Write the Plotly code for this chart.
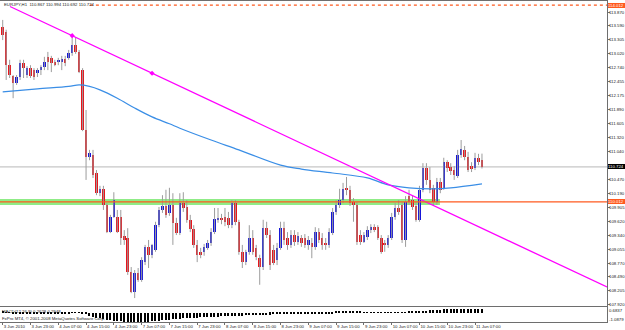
import plotly.graph_objects as go

# ---------------- data ----------------
symbol = "EURJPY,H1"
x_labels = ["3 Jun 2010", "3 Jun 23:00", "4 Jun 07:00", "4 Jun 15:00", "4 Jun 23:00",
            "7 Jun 07:00", "7 Jun 15:00", "7 Jun 23:00", "8 Jun 07:00", "8 Jun 15:00",
            "8 Jun 23:00", "9 Jun 07:00", "9 Jun 15:00", "9 Jun 23:00", "10 Jun 07:00",
            "10 Jun 15:00", "10 Jun 23:00", "11 Jun 07:00"]
label_idx = [0, 8, 16, 24, 32, 40, 48, 56, 64, 72, 80, 88, 96, 104, 112, 120, 128, 136]

opens = [113.57, 113.46, 112.79, 112.57, 112.43, 112.55, 112.83, 112.59, 112.73, 112.69,
         112.63, 112.69, 112.75, 112.96, 112.94, 112.85, 112.85, 112.85, 112.92, 112.94,
         113.04, 113.20, 113.06, 112.69, 111.47, 110.93, 110.97, 110.60, 110.19, 110.28,
         109.95, 109.40, 109.71, 109.71, 109.71, 109.32, 109.28, 108.59, 108.18, 108.57,
         108.43, 108.79, 109.10, 108.94, 109.04, 109.54, 109.85, 109.93, 109.79, 109.95,
         109.59, 109.38, 109.99, 109.91, 109.65, 109.46, 109.14, 109.00, 109.00, 109.08,
         109.18, 109.40, 109.65, 109.69, 109.71, 109.69, 109.54, 109.99, 109.61, 109.00,
         108.79, 109.00, 109.28, 109.08, 108.87, 108.69, 109.48, 109.34, 109.04, 108.83,
         109.08, 109.48, 109.28, 109.14, 109.34, 109.20, 109.28, 109.28, 109.14, 109.18,
         109.10, 109.40, 109.28, 109.18, 109.14, 109.38, 109.81, 109.95, 110.05, 110.30,
         110.26, 110.01, 109.95, 109.34, 109.20, 109.30, 109.44, 109.50, 109.50, 109.28,
         109.18, 109.14, 109.28, 109.71, 109.89, 109.95, 109.24, 110.13, 110.05, 109.93,
         109.65, 110.26, 110.70, 110.46, 110.30, 110.01, 110.42, 110.30, 110.82, 110.72,
         110.66, 110.54, 110.97, 111.07, 110.93, 110.74, 110.70, 110.91, 110.867]
highs = [113.71, 113.51, 112.90, 112.59, 112.59, 112.90, 112.90, 112.77, 112.79, 112.73,
         112.73, 112.79, 112.96, 113.06, 112.98, 112.90, 112.94, 112.98, 112.98, 113.10,
         113.38, 113.36, 113.10, 112.73, 111.88, 111.07, 111.07, 110.66, 110.34, 110.34,
         109.99, 109.75, 110.21, 109.85, 109.85, 109.44, 109.48, 108.69, 108.63, 108.67,
         108.89, 109.14, 109.24, 109.16, 109.61, 109.91, 110.15, 110.26, 110.30, 110.19,
         109.69, 110.19, 110.21, 110.05, 109.75, 109.54, 109.24, 109.08, 109.16, 109.24,
         109.48, 109.89, 109.89, 109.77, 109.89, 109.81, 110.05, 110.05, 109.65, 109.14,
         109.04, 109.54, 109.44, 109.14, 108.94, 109.65, 109.61, 109.44, 109.14, 109.18,
         109.61, 109.61, 109.40, 109.44, 109.44, 109.40, 109.34, 109.36, 109.32, 109.28,
         109.50, 109.48, 109.38, 109.28, 109.48, 109.89, 110.05, 110.28, 110.40, 110.52,
         110.34, 110.09, 110.01, 109.44, 109.40, 109.52, 109.56, 109.56, 109.54, 109.34,
         109.24, 109.34, 109.79, 109.99, 110.05, 110.01, 110.13, 110.26, 110.15, 110.01,
         110.34, 110.80, 110.80, 110.72, 110.36, 110.50, 110.50, 110.91, 110.86, 110.80,
         110.74, 111.07, 111.27, 111.15, 111.03, 110.82, 111.01, 110.99, 110.994]
lows = [113.30, 112.49, 112.53, 112.12, 112.39, 112.49, 112.53, 112.53, 112.53, 112.49,
        112.55, 112.59, 112.69, 112.69, 112.65, 112.77, 112.79, 112.69, 112.77, 112.90,
        112.98, 113.02, 112.63, 111.45, 110.46, 110.86, 110.50, 110.15, 110.13, 109.85,
        109.38, 109.38, 109.69, 109.38, 109.14, 109.14, 108.53, 108.16, 108.06, 108.39,
        108.39, 108.73, 108.67, 108.87, 109.00, 109.50, 109.79, 109.69, 109.73, 109.14,
        109.34, 109.34, 109.81, 109.59, 109.40, 109.08, 108.79, 108.87, 108.92, 109.04,
        109.12, 109.36, 109.59, 109.56, 109.52, 109.48, 109.48, 109.54, 108.94, 108.67,
        108.73, 108.94, 108.94, 108.83, 108.33, 108.63, 109.28, 108.63, 108.73, 108.73,
        109.04, 109.14, 109.04, 109.08, 109.12, 109.14, 109.10, 109.08, 109.04, 108.87,
        109.04, 109.18, 109.04, 109.04, 109.08, 109.34, 109.75, 109.89, 109.99, 110.15,
        109.93, 109.61, 109.14, 109.14, 109.18, 109.24, 109.38, 109.40, 109.24, 108.96,
        109.00, 109.08, 109.24, 109.65, 109.75, 109.18, 109.10, 109.95, 109.85, 109.61,
        109.61, 110.21, 110.36, 110.19, 109.95, 109.95, 110.19, 110.26, 110.62, 110.56,
        110.46, 110.50, 110.91, 110.86, 110.62, 110.62, 110.66, 110.76, 110.692]
closes = [113.40, 112.79, 112.59, 112.43, 112.55, 112.83, 112.73, 112.73, 112.57, 112.55,
          112.69, 112.75, 112.85, 112.85, 112.83, 112.81, 112.90, 112.92, 112.83, 113.04,
          113.20, 113.06, 112.65, 111.47, 110.93, 111.01, 110.56, 110.19, 110.28, 109.95,
          109.40, 109.71, 110.05, 109.40, 109.28, 109.24, 108.59, 108.18, 108.57, 108.43,
          108.83, 109.10, 108.94, 109.14, 109.54, 109.85, 109.93, 109.75, 109.95, 109.59,
          109.38, 109.99, 109.89, 109.65, 109.46, 109.14, 108.94, 108.94, 109.10, 109.18,
          109.40, 109.67, 109.69, 109.65, 109.61, 109.54, 109.99, 109.61, 109.00, 108.79,
          109.00, 109.28, 109.00, 108.89, 108.69, 109.48, 109.34, 108.73, 108.77, 109.08,
          109.48, 109.24, 109.14, 109.34, 109.20, 109.32, 109.18, 109.14, 109.24, 109.10,
          109.40, 109.24, 109.14, 109.14, 109.40, 109.81, 109.95, 110.05, 110.28, 110.26,
          109.99, 109.95, 109.20, 109.20, 109.34, 109.44, 109.50, 109.46, 109.28, 109.00,
          109.14, 109.28, 109.71, 109.89, 109.81, 109.24, 110.01, 110.01, 109.91, 109.65,
          110.26, 110.70, 110.46, 110.26, 110.01, 110.42, 110.26, 110.82, 110.70, 110.64,
          110.56, 110.97, 111.09, 110.93, 110.66, 110.68, 110.91, 110.82, 110.724]

ma_idx = [0, 10, 19, 22, 25, 28, 33, 38, 43, 48, 51, 60, 68, 80, 86, 95, 105, 111, 117, 124, 129, 138]
ma_val = [112.25, 112.31, 112.36, 112.39, 112.36, 112.29, 112.12, 111.92, 111.74, 111.60, 111.51,
          111.27, 111.07, 110.76, 110.68, 110.60, 110.50, 110.36, 110.30, 110.28, 110.30, 110.38]

macd_hist = [0.10, 0.09, 0.08, -0.09, -0.10, -0.10, -0.10, -0.10, -0.09, -0.09,
             -0.09, -0.09, -0.08, -0.08, -0.08, -0.08, -0.08, -0.08, -0.08, -0.08,
             0.08, 0.09, 0.08,
             -0.10, -0.18, -0.32, -0.45, -0.56, -0.66, -0.74, -0.82, -0.88, -0.93,
             -0.97, -1.00, -1.03, -1.05, -1.07, -1.08, -1.09, -1.08,
             -1.06, -1.03, -1.00, -0.96, -0.92, -0.88, -0.84, -0.80, -0.77, -0.73,
             -0.70, -0.67, -0.64, -0.61, -0.58, -0.56, -0.54,
             -0.52, -0.50, -0.48, -0.46, -0.44, -0.42, -0.40, -0.38, -0.36, -0.34,
             -0.33, -0.32, -0.31, -0.30, -0.29, -0.28, -0.27, -0.26, -0.24, -0.22,
             -0.20, -0.18, -0.16,
             -0.14, -0.12, -0.11, -0.10, -0.10, -0.09, -0.09, -0.09, -0.09, -0.09,
             -0.08, -0.08, -0.08, -0.08, -0.08,
             0.10, 0.12, 0.15, 0.18, 0.20, 0.19, 0.16, 0.12,
             0.09, 0.08, 0.08, 0.08, 0.08, 0.08, 0.08, 0.08, 0.08, 0.08,
             0.08, 0.08, 0.09, 0.10, 0.12,
             0.14, 0.18, 0.22, 0.26, 0.29, 0.32, 0.34, 0.37, 0.40, 0.42,
             0.44, 0.46, 0.48, 0.49, 0.50, 0.50, 0.50, 0.49, 0.48, 0.47]
macd_range = [-1.0879, 0.6837]
macd_text = "MACD(12,26,9) 0.2628 0.2948"

price_ticks = [113.870, 113.590, 113.305, 113.020, 112.740, 112.455, 112.175, 111.890,
               111.605, 111.320, 111.040, 110.470, 110.190, 109.905, 109.620, 109.340,
               109.055, 108.770, 108.490, 108.205, 107.920]
price_range = [107.899, 114.094]
x_range = [-0.78, 174.0]

trend_idx = [2.1, 174.0]
trend_price = [113.982, 108.285]
trend_mark_idx = [20, 43]
zone_idx = [-0.78, 125.9]
zone_price = [109.951, 110.072]
support_price = 110.012
top_level_price = 114.012
top_level_start_idx = 25.1

# ---------------- styles ----------------
RED = "#e8141c"
BLUE = "#1616d8"
WICK = "#9c9c9c"
FRAME = "#6e6e6e"
ORANGE = "#ff5a1f"
FONT = "Liberation Sans"
TXT = "#202020"
AX_R = 607 / 625

n = len(opens)
idx = list(range(n))
last_o, last_h, last_l, last_c = opens[-1], highs[-1], lows[-1], closes[-1]

fig = go.Figure()

# wicks
wx, wy = [], []
for i in idx:
    wx += [i, i, None]
    wy += [lows[i], highs[i], None]
fig.add_trace(go.Scatter(x=wx, y=wy, mode="lines", line=dict(color=WICK, width=1),
                         hoverinfo="skip", showlegend=False, xaxis="x", yaxis="y"))

# bodies
base = [min(o, c) for o, c in zip(opens, closes)]
height = [max(abs(c - o), 0.012) for o, c in zip(opens, closes)]
colors = [BLUE if c >= o else RED for o, c in zip(opens, closes)]
fig.add_trace(go.Bar(x=idx, y=height, base=base, width=0.72,
                     marker=dict(color=colors, line=dict(width=0)),
                     showlegend=False, xaxis="x", yaxis="y"))

# moving average
fig.add_trace(go.Scatter(x=ma_idx, y=ma_val, mode="lines",
                         line=dict(color="#3a8ee6", width=1.2, shape="spline", smoothing=1.0),
                         showlegend=False, xaxis="x", yaxis="y"))

# trendline
fig.add_trace(go.Scatter(x=trend_idx, y=trend_price, mode="lines",
                         line=dict(color="#ff00ff", width=1.3),
                         showlegend=False, xaxis="x", yaxis="y"))
slope = (trend_price[1] - trend_price[0]) / (trend_idx[1] - trend_idx[0])
mark_y = [trend_price[0] + slope * (m - trend_idx[0]) for m in trend_mark_idx]
fig.add_trace(go.Scatter(x=trend_mark_idx, y=mark_y, mode="markers",
                         marker=dict(color="#ff00ff", size=4, symbol="diamond"),
                         showlegend=False, xaxis="x", yaxis="y"))

# MACD histogram
fig.add_trace(go.Bar(x=idx, y=macd_hist, width=0.4,
                     marker=dict(color="#000000", line=dict(width=0)),
                     showlegend=False, xaxis="x2", yaxis="y2"))

# shapes: zone, levels
shapes = [
    dict(type="rect", xref="x", yref="y", x0=zone_idx[0], x1=zone_idx[1],
         y0=zone_price[0], y1=zone_price[1], fillcolor="#8fec86", line=dict(width=0),
         layer="below"),
    dict(type="line", xref="paper", yref="y", x0=0, x1=AX_R, y0=last_c, y1=last_c,
         line=dict(color="#b8b8b8", width=1), layer="below"),
    dict(type="line", xref="paper", yref="y", x0=0, x1=AX_R, y0=support_price,
         y1=support_price, line=dict(color=ORANGE, width=1.3)),
    dict(type="line", xref="x", yref="y", x0=top_level_start_idx, x1=x_range[1],
         y0=top_level_price, y1=top_level_price, line=dict(color=ORANGE, width=1.2, dash="dot")),
]

small = dict(family=FONT, size=4.3, color=TXT)
plain = dict(showarrow=False, borderpad=0, borderwidth=0)
annotations = [
    dict(xref="paper", yref="paper", x=4 / 625, y=1 - 4.5 / 330, xanchor="left", yanchor="middle",
         text=f"{symbol}  {last_o:.3f} {last_h:.3f} {last_l:.3f} {last_c:.3f}",
         font=small, **plain),
    dict(xref="paper", yref="paper", x=2 / 625, y=1 - 311.5 / 330, xanchor="left", yanchor="middle",
         text=macd_text, font=small, **plain),
    dict(xref="paper", yref="paper", x=2 / 625, y=1 - 318.5 / 330, xanchor="left", yanchor="middle",
         text="FxPro MT4, © 2001-2008 MetaQuotes Software Corp.", font=small, **plain),
    dict(xref="paper", yref="paper", x=608.5 / 625, y=1 - 310.7 / 330, xanchor="left", yanchor="middle",
         text=f"{macd_range[1]:.4f}", font=small, **plain),
    dict(xref="paper", yref="paper", x=608.5 / 625, y=1 - 319 / 330, xanchor="left", yanchor="middle",
         text=f"{macd_range[0]:.4f}", font=small, **plain),
]
# price scale labels
for v in price_ticks:
    annotations.append(dict(xref="paper", yref="y", x=608.5 / 625, y=v, xanchor="left",
                            yanchor="middle", text=f"{v:.3f}", font=small, **plain))
# price boxes
for val, bg in [(top_level_price, ORANGE), (last_c, "#000000"), (support_price, ORANGE)]:
    annotations.append(dict(xref="paper", yref="y", x=607.5 / 625, y=val, xanchor="left",
                            yanchor="middle", text=f"{val:.3f}", showarrow=False,
                            bgcolor=bg, borderpad=0, borderwidth=0, width=17, align="left",
                            font=dict(family=FONT, size=4.3, color="#ffffff")))

fig.update_layout(
    width=625, height=330,
    margin=dict(l=0, r=0, t=0, b=0, autoexpand=False),
    paper_bgcolor="#ffffff", plot_bgcolor="#ffffff",
    barmode="overlay", bargap=0, showlegend=False,
    shapes=shapes, annotations=annotations,
    xaxis=dict(domain=[0, AX_R], range=x_range, anchor="y", showticklabels=False,
               automargin=False, showgrid=False, zeroline=False, showline=True, mirror=True,
               linecolor=FRAME, linewidth=1, ticks=""),
    yaxis=dict(domain=[24 / 330, 329 / 330], range=price_range, side="right", anchor="x",
               automargin=False, tickvals=price_ticks, showticklabels=False,
               ticks="outside", ticklen=2, tickcolor=FRAME, showgrid=False, zeroline=False,
               showline=True, mirror=True, linecolor=FRAME, linewidth=1),
    xaxis2=dict(domain=[0, AX_R], range=x_range, anchor="y2", matches="x",
                automargin=False, tickangle=0,
                tickvals=label_idx, ticktext=x_labels, ticks="outside", ticklen=2,
                tickcolor=FRAME, ticklabelposition="outside right",
                showgrid=False, zeroline=False, showline=True, mirror=False,
                linecolor=FRAME, linewidth=1, tickfont=small),
    yaxis2=dict(domain=[8 / 330, 23 / 330], range=macd_range, side="right", anchor="x2",
                automargin=False,
                showticklabels=False, ticks="", showgrid=False, zeroline=False,
                showline=True, mirror=True, linecolor=FRAME, linewidth=1),
)

fig.write_html("out.html")
